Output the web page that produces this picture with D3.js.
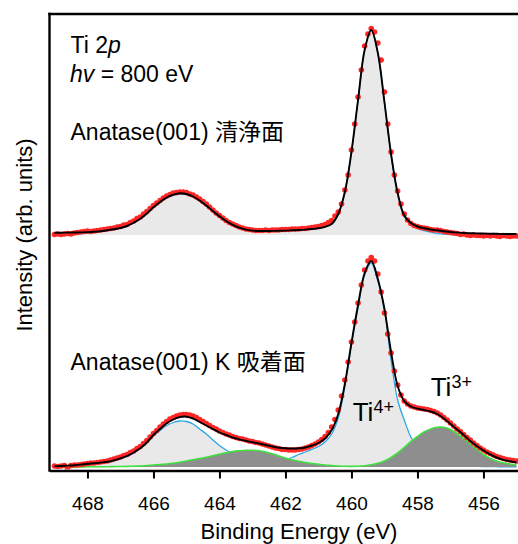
<!DOCTYPE html>
<html>
<head>
<meta charset="utf-8">
<script src="https://cdn.jsdelivr.net/npm/d3@7"></script>
<style>
  body { margin: 0; background: #fff; }
  text { font-family: "Liberation Sans", Arial, "Noto Sans CJK JP", sans-serif; fill: #000; }
</style>
</head>
<body>
<script>
// energy grid of the fitted curves (eV)
const fitEnergy = [469.0, 468.8, 468.6, 468.4, 468.2, 468.0, 467.8, 467.6, 467.4, 467.2,
  467.0, 466.8, 466.6, 466.4, 466.2, 466.0, 465.8, 465.6, 465.4, 465.2,
  465.0, 464.8, 464.6, 464.4, 464.2, 464.0, 463.8, 463.6, 463.4, 463.2,
  463.0, 462.8, 462.6, 462.4, 462.2, 462.0, 461.8, 461.6, 461.4, 461.2,
  461.0, 460.8, 460.6, 460.4, 460.2, 460.0, 459.8, 459.6, 459.4, 459.2,
  459.0, 458.8, 458.6, 458.4, 458.2, 458.0, 457.8, 457.6, 457.4, 457.2,
  457.0, 456.8, 456.6, 456.4, 456.2, 456.0, 455.8, 455.6, 455.4, 455.2, 455.0];

// energy grid of the measured points (eV)
const dataEnergy = [469.0, 468.9, 468.8, 468.7, 468.6, 468.5, 468.4, 468.3, 468.2, 468.1,
  468.0, 467.9, 467.8, 467.7, 467.6, 467.5, 467.4, 467.3, 467.2, 467.1,
  467.0, 466.9, 466.8, 466.7, 466.6, 466.5, 466.4, 466.3, 466.2, 466.1,
  466.0, 465.9, 465.8, 465.7, 465.6, 465.5, 465.4, 465.3, 465.2, 465.1,
  465.0, 464.9, 464.8, 464.7, 464.6, 464.5, 464.4, 464.3, 464.2, 464.1,
  464.0, 463.9, 463.8, 463.7, 463.6, 463.5, 463.4, 463.3, 463.2, 463.1,
  463.0, 462.9, 462.8, 462.7, 462.6, 462.5, 462.4, 462.3, 462.2, 462.1,
  462.0, 461.9, 461.8, 461.7, 461.6, 461.5, 461.4, 461.3, 461.2, 461.1,
  461.0, 460.9, 460.8, 460.7, 460.6, 460.5, 460.4, 460.3, 460.2, 460.1,
  460.0, 459.9, 459.8, 459.7, 459.6, 459.5, 459.4, 459.3, 459.2, 459.1,
  459.0, 458.9, 458.8, 458.7, 458.6, 458.5, 458.4, 458.3, 458.2, 458.1,
  458.0, 457.9, 457.8, 457.7, 457.6, 457.5, 457.4, 457.3, 457.2, 457.1,
  457.0, 456.9, 456.8, 456.7, 456.6, 456.5, 456.4, 456.3, 456.2, 456.1,
  456.0, 455.9, 455.8, 455.7, 455.6, 455.5, 455.4, 455.3, 455.2, 455.1, 455.0];

// clean surface : measured, total fit, Ti4+ component
const cleanData = [0.25, 0.5, 0.25, 0.5, 0.75, 0.5, 1.0, 1.25, 1.5, 1.75,
  2.0, 1.75, 2.0, 2.25, 2.5, 2.75, 3.0, 3.25, 3.5, 4.0,
  4.25, 5.0, 5.25, 6.25, 7.0, 8.25, 9.0, 10.5, 11.75, 13.25,
  14.75, 16.0, 17.25, 18.5, 19.5, 20.25, 21.0, 21.25, 21.5, 21.5,
  21.25, 20.5, 20.0, 19.0, 18.0, 16.75, 15.5, 14.0, 12.5, 11.0,
  9.75, 8.5, 7.25, 6.25, 5.5, 4.75, 4.0, 3.5, 3.0, 2.75,
  2.5, 2.25, 2.25, 2.25, 2.5, 2.25, 2.5, 2.5, 2.5, 2.75,
  2.75, 2.75, 3.0, 3.0, 3.0, 3.25, 3.25, 3.5, 3.75, 4.0,
  4.25, 4.75, 5.25, 6.25, 7.25, 9.5, 11.5, 15.5, 22.5, 30.0,
  42.5, 55.5, 69.0, 82.5, 94.5, 100.5, 103.25, 101.5, 96.0, 87.5,
  71.5, 55.5, 41.5, 30.0, 22.0, 15.5, 10.5, 7.5, 5.75, 4.75,
  4.25, 3.75, 3.5, 3.25, 2.75, 2.5, 2.5, 2.25, 1.75, 1.5,
  1.25, 1.0, 0.75, 0.25, 0.5, 0.0, -0.25, 0.0, -0.25, -0.25,
  -0.5, -0.25, -0.5, -0.25, -0.5, -0.75, -0.25, -0.5, -0.75, -0.5, -0.5];

const cleanFit = [1.15, 1.15, 1.2, 1.25, 1.3, 1.4, 1.6, 1.9, 2.35, 2.85,
  3.5, 4.5, 6.15, 8.1, 10.75, 13.85, 16.5, 18.75, 20.15, 20.85,
  20.5, 19.25, 17.25, 14.75, 12.0, 9.35, 7.0, 5.1, 3.65, 2.7,
  2.2, 2.0, 2.0, 2.05, 2.1, 2.2, 2.35, 2.5, 2.7, 3.0,
  3.35, 4.1, 5.5, 10.5, 21.5, 41.5, 67.5, 92.5, 102.5, 91.0,
  66.5, 40.5, 21.0, 9.75, 6.0, 4.25, 3.35, 2.75, 2.35, 1.85,
  1.5, 1.25, 1.0, 0.9, 0.8, 0.75, 0.65, 0.6, 0.5, 0.5, 0.5];

const cleanTi4 = [1.15, 1.15, 1.2, 1.25, 1.3, 1.4, 1.6, 1.9, 2.35, 2.85,
  3.5, 4.5, 6.1, 8.0, 10.6, 13.6, 16.2, 18.4, 19.8, 20.5,
  20.15, 18.9, 16.9, 14.4, 11.7, 9.1, 6.8, 4.95, 3.55, 2.6,
  2.15, 1.95, 1.95, 2.0, 2.05, 2.15, 2.3, 2.45, 2.65, 2.95,
  3.3, 4.05, 5.45, 10.45, 21.45, 41.45, 67.45, 92.45, 102.4, 90.9,
  66.3, 40.2, 20.6, 9.2, 5.3, 3.3, 2.2, 1.4, 0.8, 0.4,
  0.2, 0.1, 0, 0, 0, 0, 0, 0, 0, 0, 0];

// K adsorbed surface : measured, total fit, Ti4+ and Ti3+ components
const kData = [0.5, 0.25, 0.5, 0.75, -1.25, 0.75, 1.0, 1.0, 1.25, 1.5,
  1.75, 2.0, 2.0, 2.25, 2.5, 2.75, 3.0, 3.5, 4.0, 4.5,
  5.0, 5.75, 6.25, 7.25, 8.0, 9.25, 10.25, 11.75, 13.25, 15.0,
  16.75, 18.25, 20.0, 21.5, 22.75, 24.0, 24.75, 25.5, 26.0, 26.25,
  26.25, 26.0, 25.5, 24.75, 23.75, 22.75, 21.75, 20.75, 19.75, 19.0,
  18.0, 17.25, 16.5, 16.0, 15.25, 14.75, 14.25, 14.0, 13.5, 13.0,
  12.75, 12.25, 12.0, 11.5, 11.0, 10.5, 10.0, 9.5, 9.25, 8.75,
  8.75, 8.5, 8.5, 8.5, 8.75, 9.0, 9.5, 10.0, 10.75, 11.5,
  12.5, 13.75, 15.25, 17.25, 20.0, 23.75, 28.5, 35.5, 43.5, 52.5,
  62.5, 72.5, 82.0, 91.0, 98.5, 103.0, 104.75, 103.0, 96.5, 87.5,
  77.0, 66.5, 57.0, 48.0, 41.0, 36.0, 33.0, 31.5, 30.5, 30.0,
  29.5, 29.25, 29.0, 28.75, 28.25, 27.75, 27.0, 26.0, 24.75, 23.5,
  22.0, 20.5, 19.0, 17.75, 16.25, 14.75, 13.5, 12.0, 10.75, 9.5,
  8.5, 7.5, 6.75, 6.0, 5.25, 4.75, 4.25, 3.75, 3.5, 3.25, 3.0];

const kFit = [0.35, 0.5, 0.7, 0.9, 1.2, 1.6, 1.85, 2.2, 2.6, 3.35,
  4.35, 5.5, 7.25, 9.35, 12.25, 16.0, 19.0, 21.85, 23.75, 25.0,
  25.15, 24.25, 22.5, 20.75, 19.0, 17.25, 16.0, 14.75, 13.85, 13.1,
  12.35, 11.75, 11.0, 10.25, 9.65, 9.35, 9.25, 9.35, 9.75, 10.75,
  12.0, 14.25, 18.5, 26.5, 41.5, 62.0, 81.0, 97.0, 103.0, 94.0,
  79.0, 57.5, 40.5, 33.0, 30.25, 29.15, 28.5, 27.75, 26.5, 24.25,
  21.5, 18.75, 16.0, 13.0, 10.5, 8.25, 6.35, 4.75, 3.6, 2.85, 2.25];

const kTi4 = [0.25, 0.4, 0.6, 0.8, 1.05, 1.4, 1.7, 2.0, 2.4, 3.1,
  4.0, 5.25, 7.0, 9.25, 12.0, 15.5, 18.25, 20.75, 22.25, 23.0,
  22.75, 21.5, 19.0, 16.5, 13.5, 10.75, 8.5, 6.5, 5.0, 4.0,
  3.25, 2.75, 2.5, 2.5, 3.0, 3.75, 4.75, 6.25, 7.5, 8.85,
  10.25, 12.5, 16.5, 24.5, 40.25, 61.25, 79.75, 96.0, 102.0, 93.0,
  78.5, 53.5, 33.5, 23.5, 15.0, 10.0, 7.0, 5.0, 3.5, 2.5,
  1.75, 1.25, 0.85, 0.5, 0.35, 0.25, 0.2, 0.15, 0.1, 0.1, 0.1];

const kTi3 = [0, 0, 0, 0.05, 0.05, 0.1, 0.1, 0.15, 0.15, 0.2,
  0.25, 0.3, 0.4, 0.5, 0.75, 1.0, 1.25, 1.5, 1.85, 2.35,
  3.0, 3.6, 4.25, 4.85, 5.6, 6.4, 7.1, 7.75, 8.1, 8.35,
  8.35, 8.1, 7.5, 6.6, 5.5, 4.5, 3.6, 2.85, 2.25, 1.75,
  1.35, 1.0, 0.75, 0.5, 0.35, 0.3, 0.35, 0.6, 1.1, 1.85,
  3.0, 4.75, 7.0, 9.75, 12.65, 15.25, 17.5, 19.0, 19.85, 19.85,
  18.75, 16.75, 14.25, 11.5, 8.75, 6.25, 4.35, 3.0, 2.1, 1.5, 1.0];

const tickEnergies = [468, 466, 464, 462, 460, 458, 456];

const width = 518, height = 544;
const plotLeft = 49.5, plotRight = 518, plotTop = 14, plotBottom = 470.5;

const svg = d3.select("body").append("svg")
    .attr("width", width)
    .attr("height", height);

// binding energy runs from high to low
const x = d3.scaleLinear().domain([469.15, 454.95]).range([plotLeft, 518.1]);

// one intensity scale per spectrum, stacked
const yClean = d3.scaleLinear().domain([0, 100]).range([235, 35]);
const yK = d3.scaleLinear().domain([0, 100]).range([467, 267]);

svg.append("defs").append("clipPath")
    .attr("id", "plotClip")
    .append("rect")
    .attr("x", plotLeft + 1)
    .attr("y", plotTop + 1)
    .attr("width", plotRight - plotLeft - 1)
    .attr("height", plotBottom - plotTop - 2);

const plot = svg.append("g").attr("clip-path", "url(#plotClip)");

function drawSpectrum(y, data, fit, comps) {
    const pairs = (vals, es) => vals.map((v, i) => [es[i], v]);

    // filled components first (Ti4+ light, Ti3+ dark on top)
    comps.forEach(c => {
        plot.append("path")
            .datum(pairs(c.values, fitEnergy))
            .attr("fill", c.fill)
            .attr("d", d3.area()
                .x(d => x(d[0]))
                .y0(y(0))
                .y1(d => y(d[1]))
                .curve(d3.curveCatmullRom));

        plot.append("path")
            .datum(pairs(c.values, fitEnergy))
            .attr("fill", "none")
            .attr("stroke", c.stroke)
            .attr("stroke-width", c.width)
            .attr("d", d3.line()
                .x(d => x(d[0]))
                .y(d => y(d[1]))
                .curve(d3.curveCatmullRom));
    });

    // measured points
    plot.append("g")
        .selectAll("circle")
        .data(pairs(data, dataEnergy))
        .enter().append("circle")
        .attr("cx", d => x(d[0]))
        .attr("cy", d => y(d[1]))
        .attr("r", 2.8)
        .attr("fill", "#ff2626");

    // total fit
    plot.append("path")
        .datum(pairs(fit, fitEnergy))
        .attr("fill", "none")
        .attr("stroke", "#000")
        .attr("stroke-width", 1.9)
        .attr("d", d3.line()
            .x(d => x(d[0]))
            .y(d => y(d[1]))
            .curve(d3.curveCatmullRom));
}

drawSpectrum(yClean, cleanData, cleanFit, [
    { values: cleanTi4, fill: "#e9e9e9", stroke: "#2ba6e6", width: 1.3 }
]);

drawSpectrum(yK, kData, kFit, [
    { values: kTi4, fill: "#e9e9e9", stroke: "#2ba6e6", width: 1.3 },
    { values: kTi3, fill: "#8e8e8e", stroke: "#3fe03f", width: 1.6 }
]);

// frame: left and top borders
svg.append("line")
    .attr("x1", plotLeft).attr("x2", plotLeft)
    .attr("y1", plotTop - 1.2).attr("y2", plotBottom + 1.2)
    .attr("stroke", "#000").attr("stroke-width", 2.4);

svg.append("line")
    .attr("x1", plotLeft - 1.2).attr("x2", plotRight)
    .attr("y1", plotTop).attr("y2", plotTop)
    .attr("stroke", "#000").attr("stroke-width", 2.4);

// bottom axis
const xAxis = svg.append("g")
    .attr("transform", `translate(0,${plotBottom})`)
    .call(d3.axisBottom(x)
        .tickValues(tickEnergies)
        .tickFormat(d3.format("d"))
        .tickSize(8)
        .tickSizeOuter(0)
        .tickPadding(18));

xAxis.select(".domain")
    .attr("stroke", "#000")
    .attr("stroke-width", 2.4);
xAxis.selectAll(".tick line")
    .attr("stroke", "#000")
    .attr("stroke-width", 2);
xAxis.selectAll(".tick text")
    .style("font-family", '"Liberation Sans", Arial, sans-serif')
    .style("font-size", "19px")
    .attr("fill", "#000");

// axis titles
svg.append("text")
    .attr("x", 299)
    .attr("y", 539)
    .attr("text-anchor", "middle")
    .style("font-size", "22px")
    .text("Binding Energy (eV)");

svg.append("text")
    .attr("transform", "translate(31.5,235) rotate(-90)")
    .attr("text-anchor", "middle")
    .style("font-size", "22px")
    .text("Intensity (arb. units)");

// annotations
const t1 = svg.append("text").attr("x", 70.5).attr("y", 52.7).style("font-size", "23px");
t1.append("tspan").text("Ti 2");
t1.append("tspan").style("font-style", "italic").text("p");

const t2 = svg.append("text").attr("x", 70).attr("y", 81.7).style("font-size", "23px");
t2.append("tspan").style("font-style", "italic").text("hv");
t2.append("tspan").text(" = 800 eV");

svg.append("text")
    .attr("x", 70.5).attr("y", 140)
    .style("font-size", "23px")
    .text("Anatase(001) 清浄面");

svg.append("text")
    .attr("x", 70.5).attr("y", 370)
    .style("font-size", "23px")
    .text("Anatase(001) K 吸着面");

function ionLabel(px, py, charge) {
    const t = svg.append("text").attr("x", px).attr("y", py).style("font-size", "26px");
    t.append("tspan").text("Ti");
    t.append("tspan").attr("dy", -8.3).style("font-size", "18px").text(charge);
}
ionLabel(352.7, 421.3, "4+");
ionLabel(430.7, 396.3, "3+");
</script>
</body>
</html>
